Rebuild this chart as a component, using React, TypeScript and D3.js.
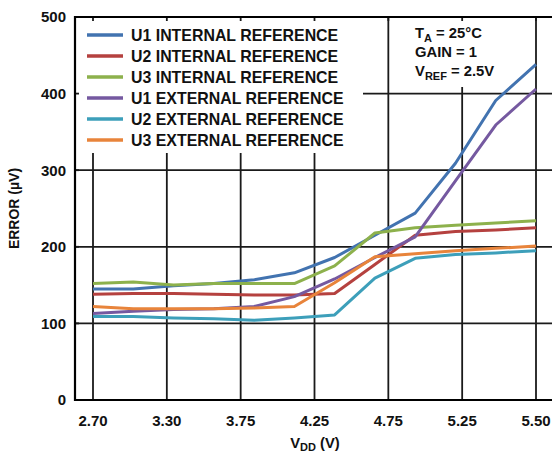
import React from "react";
import * as d3 from "d3";

// Supply-voltage steps along the x axis (12 measurement points)
const pointIndex = [0, 1, 2, 3, 4, 5, 6, 7, 8, 9, 10, 11];
// Labelled voltage gridlines
const vddTicks = ["2.70", "3.30", "3.75", "4.25", "4.75", "5.25", "5.50"];
const errorTicks = [0, 100, 200, 300, 400, 500];

// Error (µV) per device and reference configuration
const u1Internal = [145, 145, 149, 152, 157, 166, 186, 215, 244, 309, 391, 438];
const u2Internal = [138, 139, 139, 138, 137, 137, 139, 177, 215, 220, 222, 225];
const u3Internal = [152, 154, 150, 152, 152, 152, 175, 218, 225, 228, 231, 234];
const u1External = [113, 116, 118, 119, 122, 135, 158, 186, 213, 286, 359, 406];
const u2External = [109, 109, 107, 106, 104, 107, 111, 159, 185, 190, 192, 195];
const u3External = [122, 119, 119, 119, 120, 122, 153, 187, 191, 195, 198, 201];

const seriesNames = [
  "U1 INTERNAL REFERENCE",
  "U2 INTERNAL REFERENCE",
  "U3 INTERNAL REFERENCE",
  "U1 EXTERNAL REFERENCE",
  "U2 EXTERNAL REFERENCE",
  "U3 EXTERNAL REFERENCE",
];
const seriesValues = [u1Internal, u2Internal, u3Internal, u1External, u2External, u3External];
const seriesColors = ["#4273b0", "#b5413f", "#8db14c", "#7559a0", "#3d9fba", "#e8843b"];

const W = 552;
const H = 454;
const left = 75;
const top = 17;
const bottom = 400;
const right = 554;
const font = "'Liberation Sans', Arial, Helvetica, sans-serif";

export default function App() {
  const x = d3.scaleLinear().domain([0, 11]).range([93, 536]);
  const xTick = d3.scalePoint<string>().domain(vddTicks).range([93, 536]);
  const y = d3.scaleLinear().domain([0, 500]).range([bottom, top]);

  const line = d3
    .line<number>()
    .x((_, i) => x(pointIndex[i]))
    .y((d) => y(d));

  const legendX = 87;
  const legendY0 = 35;
  const legendStep = 21;

  return (
    <svg
      width={W}
      height={H}
      style={{ position: "absolute", left: 0, top: 0, background: "#fff" }}
      fontFamily={font}
      fontWeight="bold"
    >
      <rect x={0} y={0} width={W} height={H} fill="#fff" />

      {/* gridlines */}
      {vddTicks.map((t) => (
        <line key={"vx" + t} x1={xTick(t)} x2={xTick(t)} y1={top} y2={bottom} stroke="#1a1a1a" strokeWidth={1.8} />
      ))}
      {errorTicks.slice(1, 5).map((v) => (
        <line key={"hy" + v} x1={left} x2={right} y1={y(v)} y2={y(v)} stroke="#1a1a1a" strokeWidth={1.8} />
      ))}

      {/* legend and conditions panels sit over the grid, under the data */}
      <rect x={left + 1} y={top + 1} width={287} height={135} fill="#fff" />
      <rect x={390} y={top + 1} width={144} height={69} fill="#fff" />

      {/* data series */}
      {seriesValues.map((vals, i) => (
        <path
          key={seriesNames[i]}
          d={line(vals) || ""}
          fill="none"
          stroke={seriesColors[i]}
          strokeWidth={3}
          strokeLinejoin="round"
        />
      ))}

      {/* legend */}
      {seriesNames.map((name, i) => (
        <g key={"lg" + name}>
          <line
            x1={legendX}
            x2={legendX + 36}
            y1={legendY0 + i * legendStep}
            y2={legendY0 + i * legendStep}
            stroke={seriesColors[i]}
            strokeWidth={3.5}
          />
          <text x={131} y={legendY0 + i * legendStep + 5.5} fontSize={15.9} fill="#111">
            {name}
          </text>
        </g>
      ))}

      {/* test conditions */}
      <g fontSize={14.8} fill="#111">
        <text x={415} y={38}>
          T<tspan fontSize={11} dy={4}>A</tspan>
          <tspan dy={-4}> = 25°C</tspan>
        </text>
        <text x={415} y={57}>GAIN = 1</text>
        <text x={415} y={76}>
          V<tspan fontSize={11} dy={4}>REF</tspan>
          <tspan dy={-4}> = 2.5V</tspan>
        </text>
      </g>

      {/* inward tick marks on top border and left axis */}
      {vddTicks.map((t) => (
        <line key={"tt" + t} x1={xTick(t)} x2={xTick(t)} y1={top} y2={top + 4} stroke="#1a1a1a" strokeWidth={1.8} />
      ))}
      {errorTicks.map((v) => (
        <line key={"ty" + v} x1={left} x2={left + 4} y1={y(v)} y2={y(v)} stroke="#1a1a1a" strokeWidth={1.8} />
      ))}

      {/* frame */}
      <line x1={left} x2={right} y1={top} y2={top} stroke="#000" strokeWidth={2.2} />
      <line x1={left} x2={left} y1={top - 1} y2={bottom + 1} stroke="#000" strokeWidth={2.2} />
      <line x1={left - 1} x2={right} y1={bottom} y2={bottom} stroke="#000" strokeWidth={2.2} />

      {/* y tick labels */}
      {errorTicks.map((v) => (
        <text key={"yl" + v} x={66} y={y(v)} dy="0.36em" textAnchor="end" fontSize={15} fill="#111">
          {v}
        </text>
      ))}

      {/* x tick labels */}
      {vddTicks.map((t) => (
        <text key={"xl" + t} x={xTick(t)} y={426} textAnchor="middle" fontSize={15} fill="#111">
          {t}
        </text>
      ))}

      {/* axis titles */}
      <text
        transform={`translate(19, ${(top + bottom) / 2}) rotate(-90)`}
        textAnchor="middle"
        fontSize={14}
        fill="#111"
      >
        ERROR (µV)
      </text>
      <text x={315} y={448} textAnchor="middle" fontSize={14.8} fill="#111">
        V<tspan fontSize={11} dy={3}>DD</tspan>
        <tspan dy={-3}> (V)</tspan>
      </text>
    </svg>
  );
}
